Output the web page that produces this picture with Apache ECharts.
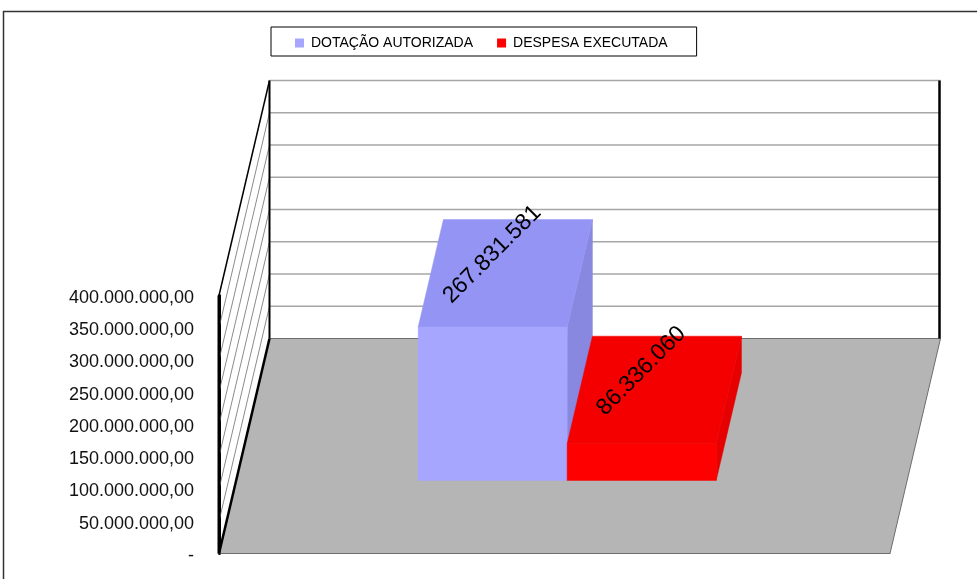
<!DOCTYPE html>
<html>
<head>
<meta charset="utf-8">
<title>Dotação x Despesa</title>
<style>
  html, body { margin: 0; padding: 0; background: #fff; overflow: hidden; }
  #chart { width: 977px; height: 579px; }
</style>
</head>
<body>
<div id="chart"></div>
<script src="https://cdn.jsdelivr.net/npm/echarts@6/dist/echarts.min.js"></script>
<script>
const categories = ['']
const tickValues = [0, 50000000, 100000000, 150000000, 200000000, 250000000, 300000000, 350000000, 400000000]
const tickLabels = ['-', '50.000.000,00', '100.000.000,00', '150.000.000,00', '200.000.000,00', '250.000.000,00', '300.000.000,00', '350.000.000,00', '400.000.000,00']
// bar heights as read against the axis, the printed labels are higher than that in the original too
const dotacaoValues = [237700000]
const despesaValues = [56900000]
const dotacaoLabels = ['267.831.581']
const despesaLabels = ['86.336.060']

// oblique projection of the fake 3D box
const DEPTH_X = 50.5
const DEPTH_Y = 215
const BAR_WIDTH = 149
const BAR_SHIFT = -4.5
const BAR_DEPTH_FROM = 0.34
const BAR_DEPTH_TO = 0.84

function sheared(pt, depth) {
  return [pt[0] + DEPTH_X * depth, pt[1] - DEPTH_Y * depth]
}

function poly(points, fill) {
  return { type: 'polygon', shape: { points: points }, style: { fill: fill, stroke: fill, lineWidth: 0.5 } }
}

function line(a, b, color, width) {
  return {
    type: 'line',
    shape: { x1: a[0], y1: a[1], x2: b[0], y2: b[1] },
    style: { stroke: color, lineWidth: width }
  }
}

function renderWalls(params, api) {
  const value = api.value(1)
  const isTop = value === tickValues[tickValues.length - 1]
  const center = api.coord([0, value])
  const half = api.size([1, 0])[0] / 2
  const left = [center[0] - half, center[1]]
  const right = [center[0] + half, center[1]]
  const children = []
  if (value === 0) {
    children.push({
      type: 'polygon',
      shape: { points: [left, right, sheared(right, 1), sheared(left, 1)] },
      style: { fill: '#b5b5b5', stroke: '#6e6e6e', lineWidth: 1 }
    })
    children.push(line(left, sheared(left, 1), '#000', 2.5))
    const topPoint = api.coord([0, tickValues[tickValues.length - 1]])
    const backLeft = sheared(left, 1)
    const backRight = sheared(right, 1)
    const backTop = sheared(topPoint, 1)[1]
    children.push(line(left, [left[0], topPoint[1]], '#000', 3))
    children.push(line(backLeft, [backLeft[0], backTop], '#000', 2))
    children.push(line([backRight[0] - 1, backRight[1]], [backRight[0] - 1, backTop], '#000', 2.5))
  } else {
    children.push(line(left, sheared(left, 1), isTop ? '#000' : '#8c8c8c', isTop ? 1.5 : 1))
    children.push(line(sheared(left, 1), sheared(right, 1), '#a6a6a6', 1.5))
  }
  return { type: 'group', children: children }
}

function renderBar(colors, labels, offset) {
  return function (params, api) {
    const base = api.coord([0, 0])
    const top = api.coord([0, api.value(0)])
    const x0 = base[0] + BAR_SHIFT + offset
    const x1 = x0 + BAR_WIDTH
    const a = BAR_DEPTH_FROM
    const b = BAR_DEPTH_TO
    const fbl = sheared([x0, base[1]], a)
    const fbr = sheared([x1, base[1]], a)
    const ftl = sheared([x0, top[1]], a)
    const ftr = sheared([x1, top[1]], a)
    const btl = sheared([x0, top[1]], b)
    const btr = sheared([x1, top[1]], b)
    const bbr = sheared([x1, base[1]], b)
    const middle = [(ftl[0] + btr[0]) / 2, (ftl[1] + btr[1]) / 2]
    return {
      type: 'group',
      children: [
        poly([ftr, btr, bbr, fbr], colors.side),
        poly([ftl, ftr, btr, btl], colors.top),
        poly([fbl, fbr, ftr, ftl], colors.front),
        {
          type: 'text',
          x: middle[0] - 13,
          y: middle[1] - 19,
          rotation: Math.PI / 4,
          style: {
            text: labels[params.dataIndex],
            fill: '#000',
            font: '23px "Liberation Sans", Arial, sans-serif',
            textAlign: 'center',
            textVerticalAlign: 'middle'
          }
        }
      ]
    }
  }
}

const chart = echarts.init(document.getElementById('chart'), null, { renderer: 'canvas' })
chart.setOption({
  animation: false,
  backgroundColor: '#fff',
  textStyle: { fontFamily: '"Liberation Sans", Arial, sans-serif' },
  graphic: [{
    type: 'rect',
    silent: true,
    z: -10,
    shape: { x: 3.5, y: 11.5, width: 1100, height: 700 },
    style: { fill: 'none', stroke: '#333', lineWidth: 1.5 }
  }],
  legend: {
    left: 271,
    top: 27,
    padding: [9, 29, 6, 24],
    borderColor: '#000',
    borderWidth: 1,
    icon: 'rect',
    itemWidth: 9,
    itemHeight: 9,
    itemGap: 24,
    data: ['DOTAÇÃO AUTORIZADA', 'DESPESA EXECUTADA'],
    textStyle: { color: '#000', fontSize: 14, padding: [0, 0, 0, 2] }
  },
  grid: { left: 219, top: 295.5, width: 671, height: 258 },
  xAxis: {
    type: 'category',
    data: categories,
    axisLine: { lineStyle: { color: '#6e6e6e', width: 1 } },
    axisTick: { show: false },
    axisLabel: { show: false }
  },
  yAxis: {
    type: 'value',
    min: 0,
    max: 400000000,
    interval: 50000000,
    axisLine: { show: true, lineStyle: { color: '#000', width: 3 } },
    axisTick: { show: false },
    splitLine: { show: false },
    axisLabel: {
      color: '#111',
      fontSize: 18,
      margin: 25,
      verticalAlign: 'top',
      lineHeight: 5,
      formatter: function (val) {
        return tickLabels[tickValues.indexOf(val)]
      }
    }
  },
  series: [
    {
      type: 'custom',
      name: 'walls',
      silent: true,
      renderItem: renderWalls,
      // top tick first so the floor and the black edges end up over the grid lines
      data: tickValues.slice().reverse().map(function (v) { return [0, v] }),
      encode: { x: 0, y: 1 },
      z: 1
    },
    {
      type: 'custom',
      name: 'DOTAÇÃO AUTORIZADA',
      itemStyle: { color: '#a6a6ff' },
      renderItem: renderBar({ front: '#a6a6ff', top: '#9494f5', side: '#8888e0' }, dotacaoLabels, -BAR_WIDTH),
      data: dotacaoValues,
      encode: { y: 0 },
      z: 2
    },
    {
      type: 'custom',
      name: 'DESPESA EXECUTADA',
      itemStyle: { color: '#ff0000' },
      renderItem: renderBar({ front: '#ff0000', top: '#f40000', side: '#e60000' }, despesaLabels, 0),
      data: despesaValues,
      encode: { y: 0 },
      z: 3
    }
  ]
})
</script>
</body>
</html>
